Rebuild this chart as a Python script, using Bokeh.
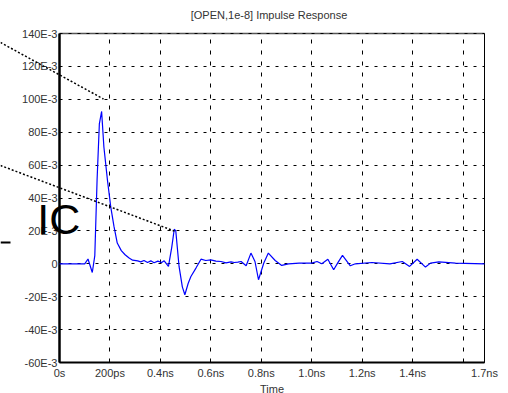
from bokeh.plotting import figure
from bokeh.models import FixedTicker, LinearAxis, Range1d
from bokeh.core.properties import value
from bokeh.embed import file_html
from bokeh.resources import INLINE

# Impulse response: time in ns, value in units of 1E-3
time_ns = [0, 0.10, 0.113, 0.13, 0.140, 0.149, 0.158, 0.167, 0.176, 0.190, 0.203, 0.216, 0.229,
           0.245, 0.26, 0.276, 0.29, 0.31, 0.322, 0.335, 0.349, 0.362, 0.375, 0.39, 0.405,
           0.415, 0.432, 0.445, 0.455, 0.461, 0.474, 0.487, 0.497, 0.51, 0.521, 0.541, 0.561,
           0.58, 0.600, 0.62, 0.640, 0.66, 0.68, 0.693, 0.707, 0.720, 0.740, 0.759, 0.775,
           0.789, 0.81, 0.828, 0.855, 0.881, 0.908, 0.95, 1.0, 1.021, 1.04, 1.064, 1.087,
           1.105, 1.122, 1.153, 1.173, 1.239, 1.31, 1.359, 1.388, 1.418, 1.451, 1.471, 1.504,
           1.57, 1.685]
response = [0, 0, 2.9, -5.3, 5, 51, 85, 92.6, 71, 51, 34.8, 22.7, 12.6,
            8.0, 5.5, 3.5, 2.2, 1.8, 1.2, 2.0, 0.8, 1.8, 0.6, 1.6, 0.8,
            1.8, -1.6, 10, 21, 20, -1.6, -14, -18.8, -12, -7.7, -2.6, 2.8,
            2.0, 2.4, 1.6, 1.4, 0.6, 1.2, 0.8, 1.0, 1.4, -1.2, 6.5, 1.4,
            -9.7, 0.5, 6.5, 2.0, -1.0, 0, 0.4, 0.4, 1.4, 0, 2.8, -3.6,
            1.0, 5.1, -1.2, 0, 0.8, 0, 1.4, -1.6, 2.8, -2.0, 0.4, 1.2,
            0.4, 0]

X_MIN, X_MAX = 0.0, 1.685
Y_MIN, Y_MAX = -60.0, 140.0

x_ticks = [0, 0.2, 0.4, 0.6, 0.8, 1.0, 1.2, 1.4, 1.6, 1.685]
x_tick_labels = ["0s", "200ps", "0.4ns", "0.6ns", "0.8ns", "1.0ns", "1.2ns", "1.4ns", "", "1.7ns"]
y_ticks = [-60, -40, -20, 0, 20, 40, 60, 80, 100, 120, 140]
y_tick_labels = ["-60E-3", "-40E-3", "-20E-3", "0", "20E-3", "40E-3", "60E-3", "80E-3",
                 "100E-3", "120E-3", "140E-3"]

title_text = ["[OPEN,1e-8] Impulse Response"]
overlay_text = ["IC"]

# layout of the plot box inside the 508x393 canvas (pixels)
W, H = 508, 393
BOX_L, BOX_R, BOX_T, BOX_B = 59, 484, 33, 362
sx = (BOX_R - BOX_L) / (X_MAX - X_MIN)
sy = (BOX_B - BOX_T) / (Y_MAX - Y_MIN)

def dx(px):
    return X_MIN + (px - BOX_L) / sx

def dy(py):
    return Y_MAX - (py - BOX_T) / sy

FONT = "Liberation Sans"

p = figure(width=W, height=H, output_backend="svg", toolbar_location=None,
           x_range=Range1d(dx(0), dx(W)), y_range=Range1d(dy(H), dy(0)),
           x_axis_location=None, y_axis_location=None,
           min_border=0, min_border_left=0, min_border_right=0,
           min_border_top=0, min_border_bottom=0)
p.outline_line_color = None
p.background_fill_color = "white"
p.border_fill_color = "white"
p.xgrid.visible = False
p.ygrid.visible = False


def style_axis(ax):
    ax.major_tick_out = 0
    ax.minor_tick_out = 0
    ax.minor_tick_in = 0
    ax.major_label_text_font = FONT
    ax.major_label_text_font_size = "11px"
    ax.major_label_text_color = "#333333"
    ax.axis_line_color = "black"
    ax.major_tick_line_color = "black"
    ax.major_tick_line_width = 1
    ax.level = "underlay"


# bottom axis (its long dashed ticks form the vertical grid lines)
xb = LinearAxis(fixed_location=Y_MIN, bounds=(X_MIN, X_MAX), ticker=FixedTicker(ticks=x_ticks))
style_axis(xb)
xb.major_label_overrides = {t: l for t, l in zip(x_ticks, x_tick_labels)}
xb.major_tick_in = BOX_B - BOX_T
xb.major_tick_line_dash = "4 7"
xb.axis_line_width = 2
xb.major_label_standoff = 4
xb.axis_label = "Time"
xb.axis_label_text_font = FONT
xb.axis_label_text_font_size = "11px"
xb.axis_label_text_font_style = "normal"
xb.axis_label_text_color = "#333333"
xb.axis_label_standoff = 1
p.add_layout(xb, "below")

# left axis (its long dashed ticks form the horizontal grid lines)
yl = LinearAxis(fixed_location=X_MIN, bounds=(Y_MIN, Y_MAX), ticker=FixedTicker(ticks=y_ticks))
style_axis(yl)
yl.major_label_overrides = {t: l for t, l in zip(y_ticks, y_tick_labels)}
yl.major_tick_in = BOX_R - BOX_L
yl.major_tick_line_dash = "3 6"
yl.axis_line_width = 2.5
yl.major_label_standoff = 2
p.add_layout(yl, "left")

# top and right frame lines
xt = LinearAxis(fixed_location=Y_MAX, bounds=(X_MIN, X_MAX), ticker=FixedTicker(ticks=[]))
style_axis(xt)
xt.major_tick_in = 0
xt.axis_line_color = "#555555"
xt.axis_line_width = 1.5
p.add_layout(xt, "above")

yr = LinearAxis(fixed_location=X_MAX, bounds=(Y_MIN, Y_MAX), ticker=FixedTicker(ticks=[]))
style_axis(yr)
yr.major_tick_in = 0
yr.axis_line_width = 1
p.add_layout(yr, "right")

# response curve
p.line(time_ns, response, line_color="#0000ff", line_width=1.2)

# dotted leader lines and stray overlay marks from the source image
leader_x0 = [dx(0), dx(0)]
leader_y0 = [dy(42), dy(165)]
leader_x1 = [dx(103), dx(175)]
leader_y1 = [dy(98.5), dy(231)]
p.segment(leader_x0, leader_y0, leader_x1, leader_y1, line_color="black",
          line_width=1.5, line_dash="2 2")
p.segment([dx(0)], [dy(242)], [dx(10)], [dy(242)], line_color="black", line_width=2.2)
p.text([dx(36.7)], [dy(218)], text=overlay_text, text_font=value(FONT),
       text_font_size="43px", text_color="black", text_baseline="alphabetic",
       text_align="left")

# title
p.text([dx(268.5)], [dy(14)], text=title_text, text_font=value(FONT),
       text_font_size="11px", text_color="#333333", text_baseline="middle",
       text_align="center")

open("out.html", "w").write(file_html(p, INLINE))
